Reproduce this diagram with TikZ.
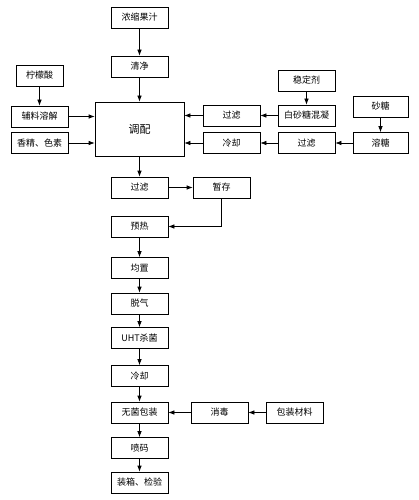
\documentclass[tikz,border=0pt]{standalone}
\usepackage{fontspec}
\setmainfont{Noto Sans CJK SC}
\usetikzlibrary{arrows.meta}
\begin{document}
\begin{tikzpicture}[x=1pt,y=-1pt,
    stepbox/.style={draw, line width=0.7pt, minimum width=57pt, minimum height=21pt, inner sep=0pt, font=\fontsize{9pt}{10pt}\selectfont},
    flow/.style={-{Latex[length=6pt,width=4.5pt]}, line width=0.7pt}]

    \useasboundingbox (0,0) rectangle (418,500);

    % Raw materials and blending
    \node[stepbox] (juice) at (139.5,17.5) {浓缩果汁};
    \node[stepbox] (clean) at (139.5,66.5) {清净};
    \node[stepbox, minimum width=89pt, minimum height=54pt, font=\fontsize{11pt}{12pt}\selectfont] (mix) at (139.5,129) {调配};

    \node[stepbox, minimum width=47pt] (citric) at (39.5,75.5) {柠檬酸};
    \node[stepbox] (dissolve) at (39.5,116.5) {辅料溶解};
    \node[stepbox] (flavor) at (39.5,143) {香精、色素};

    \node[stepbox] (stabilizer) at (306.5,80.5) {稳定剂};
    \node[stepbox] (sugarmix) at (306.5,115.5) {白砂糖混凝};
    \node[stepbox] (filterA) at (231.5,115.5) {过滤};

    \node[stepbox, minimum width=55pt] (sugar) at (380.5,106.5) {砂糖};
    \node[stepbox, minimum width=55pt] (melt) at (380.5,143) {溶糖};
    \node[stepbox] (filterB) at (306.5,143) {过滤};
    \node[stepbox] (coolA) at (231.5,143) {冷却};

    % Main line
    \node[stepbox] (filterC) at (139.5,187.5) {过滤};
    \node[stepbox] (store) at (221.5,187.5) {暂存};
    \node[stepbox] (preheat) at (139.5,226.5) {预热};
    \node[stepbox] (homog) at (139.5,268) {均置};
    \node[stepbox] (degas) at (139.5,303.5) {脱气};
    \node[stepbox] (uht) at (139.5,338) {UHT杀菌};
    \node[stepbox] (coolB) at (139.5,376) {冷却};
    \node[stepbox] (aseptic) at (139.5,412.5) {无菌包装};
    \node[stepbox] (disinfect) at (219.5,412.5) {消毒};
    \node[stepbox] (material) at (294.5,412.5) {包装材料};
    \node[stepbox] (code) at (139.5,448) {喷码};
    \node[stepbox] (pack) at (139.5,482.5) {装箱、检验};

    % Connectors into the blending box
    \draw[flow] (juice) -- (clean);
    \draw[flow] (clean) -- (mix);
    \draw[flow] (citric) -- (dissolve);
    \draw[flow] (dissolve.east) -- (dissolve.east -| mix.west);
    \draw[flow] (flavor.east) -- (flavor.east -| mix.west);
    \draw[flow] (stabilizer) -- (sugarmix);
    \draw[flow] (sugarmix) -- (filterA);
    \draw[flow] (filterA.west) -- (filterA.west -| mix.east);
    \draw[flow] (sugar) -- (melt);
    \draw[flow] (melt) -- (filterB);
    \draw[flow] (filterB) -- (coolA);
    \draw[flow] (coolA.west) -- (coolA.west -| mix.east);

    % Connectors down the main line
    \draw[flow] (mix) -- (filterC);
    \draw[flow] (filterC) -- (store);
    \draw[flow] (store.south) |- (preheat.east);
    \draw[flow] (preheat) -- (homog);
    \draw[flow] (homog) -- (degas);
    \draw[flow] (degas) -- (uht);
    \draw[flow] (uht) -- (coolB);
    \draw[flow] (coolB) -- (aseptic);
    \draw[flow] (material) -- (disinfect);
    \draw[flow] (disinfect) -- (aseptic);
    \draw[flow] (aseptic) -- (code);
    \draw[flow] (code) -- (pack);

\end{tikzpicture}
\end{document}
